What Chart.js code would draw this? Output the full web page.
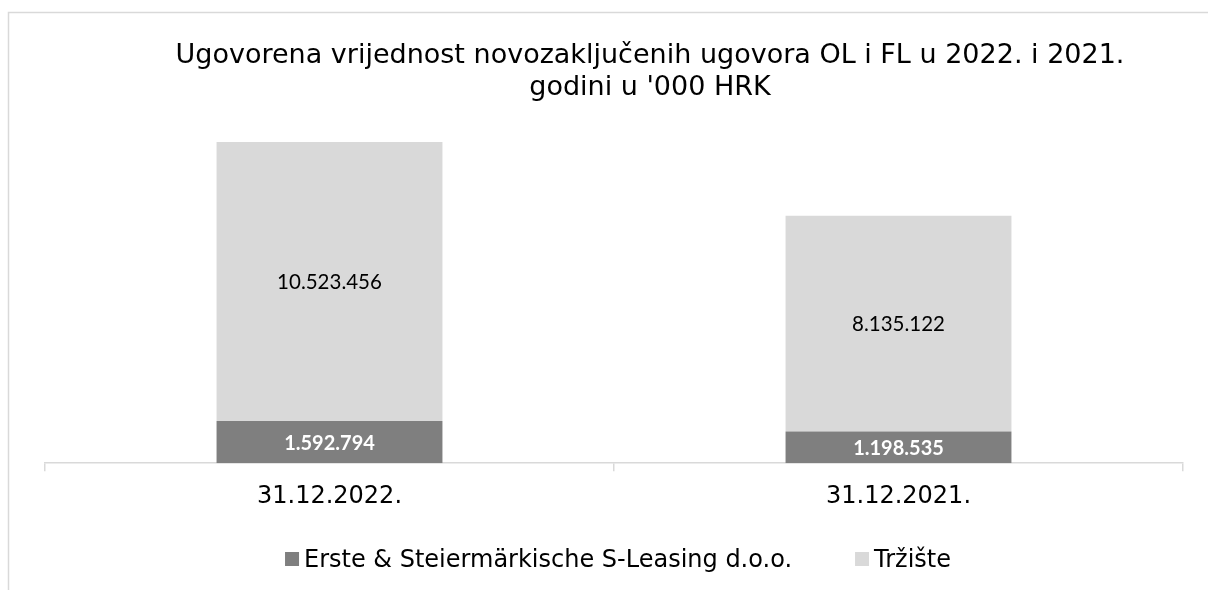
<!DOCTYPE html>
<html>
<head>
<meta charset="utf-8">
<script src="https://cdn.jsdelivr.net/npm/chart.js@4.4.1/dist/chart.umd.min.js"></script>
<style>
  html, body { margin: 0; padding: 0; background: #fff; }
  #wrap { position: relative; width: 1208px; height: 590px; }
</style>
</head>
<body>
<div id="wrap"><canvas id="chart" width="1208" height="590"></canvas></div>
<script>
// podaci
const categories = ["31.12.2022.", "31.12.2021."];
const ersteValues = [1592794, 1198535];
const trzisteValues = [10523456, 8135122];
const seriesNames = ["Erste & Steiermärkische S-Leasing d.o.o.", "Tržište"];
const titleLines = ["Ugovorena vrijednost novozaključenih ugovora OL i FL u 2022. i 2021.", "godini u '000 HRK"];

const GRID = "#d9d9d9";
const fmt = v => String(v).replace(/\B(?=(\d{3})+(?!\d))/g, ".");

// okvir + naslov + legenda
const decorPlugin = {
  id: "decor",
  beforeDraw(chart) {
    const ctx = chart.ctx;
    ctx.save();
    ctx.strokeStyle = GRID;
    ctx.lineWidth = 1.5;
    ctx.beginPath();
    ctx.moveTo(8.5, 590);
    ctx.lineTo(8.5, 12.5);
    ctx.lineTo(1208, 12.5);
    ctx.stroke();
    ctx.restore();
  },
  afterDraw(chart) {
    const ctx = chart.ctx;
    ctx.save();
    // naslov
    ctx.fillStyle = "#000";
    ctx.font = "27px 'DejaVu Sans'";
    ctx.textAlign = "center";
    ctx.textBaseline = "alphabetic";
    ctx.fillText(titleLines[0], 650, 63);
    ctx.fillText(titleLines[1], 650, 95);

    // legenda
    ctx.font = "24px 'DejaVu Sans'";
    ctx.textAlign = "left";
    const box = 14, gap = 5, itemGap = 63;
    const items = chart.data.datasets.map(ds => ({
      text: ds.label, color: ds.backgroundColor,
      w: box + gap + ctx.measureText(ds.label).width
    }));
    const total = items.reduce((s, it) => s + it.w, 0) + itemGap * (items.length - 1);
    let x = 618 - total / 2;
    items.forEach(it => {
      ctx.fillStyle = it.color;
      ctx.fillRect(x, 552, box, box);
      ctx.fillStyle = "#000";
      ctx.fillText(it.text, x + box + gap, 567);
      x += it.w + itemGap;
    });
    ctx.restore();
  }
};

// oznake vrijednosti
const labelsPlugin = {
  id: "valueLabels",
  afterDatasetsDraw(chart) {
    const ctx = chart.ctx;
    ctx.save();
    ctx.textAlign = "center";
    ctx.textBaseline = "middle";
    chart.data.datasets.forEach((ds, i) => {
      const meta = chart.getDatasetMeta(i);
      meta.data.forEach((bar, j) => {
        const y = (bar.y + bar.base) / 2;
        if (i === 0) {
          ctx.font = "bold 20px Lato";
          ctx.fillStyle = "#fff";
        } else {
          ctx.font = "20.5px Lato";
          ctx.fillStyle = "#000";
        }
        ctx.fillText(fmt(ds.data[j]), bar.x, y + 1);
      });
    });
    ctx.restore();
  }
};

new Chart(document.getElementById("chart"), {
  type: "bar",
  data: {
    labels: categories,
    datasets: [
      { label: seriesNames[0], data: ersteValues, backgroundColor: "#7f7f7f" },
      { label: seriesNames[1], data: trzisteValues, backgroundColor: "#d9d9d9" }
    ]
  },
  options: {
    responsive: false,
    animation: false,
    devicePixelRatio: 1,
    layout: { padding: { top: 92, left: 45, right: 25, bottom: 68 } },
    categoryPercentage: 1,
    barPercentage: 0.397,
    plugins: {
      legend: { display: false },
      title: { display: false },
      tooltip: { enabled: false }
    },
    scales: {
      x: {
        stacked: true,
        grid: { drawOnChartArea: false, color: GRID, tickLength: 8, lineWidth: 1.5 },
        border: { color: GRID, width: 1.5 },
        ticks: { color: "#000", font: { family: "DejaVu Sans", size: 24 }, padding: 11 }
      },
      y: {
        stacked: true,
        display: false,
        min: 0,
        max: 14000000
      }
    }
  },
  plugins: [decorPlugin, labelsPlugin]
});
</script>
</body>
</html>
